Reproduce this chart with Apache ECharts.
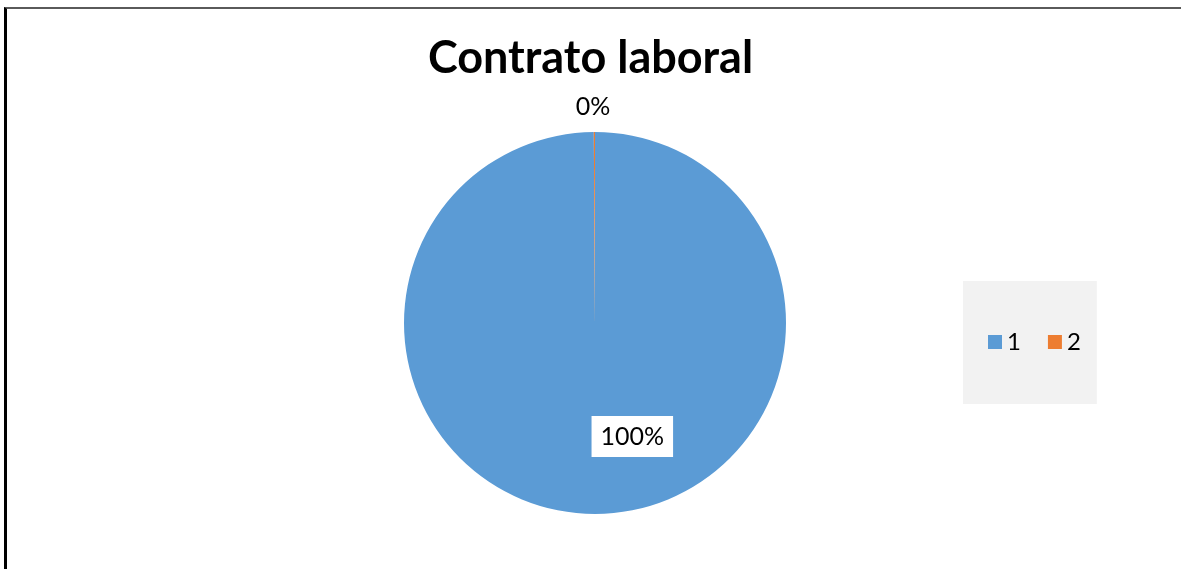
<!DOCTYPE html>
<html>
<head>
<meta charset="utf-8">
<script src="https://cdn.jsdelivr.net/npm/echarts@6/dist/echarts.min.js"></script>
<style>
html,body{margin:0;padding:0;background:#fff;}
#frame{position:absolute;left:4px;top:7px;width:1177px;height:562px;border-left:3px solid #000;border-top:2px solid #5a5a5a;box-sizing:border-box;}
#chart{position:absolute;left:0;top:0;width:1181px;height:569px;}
</style>
</head>
<body>
<div id="frame"></div>
<div id="chart"></div>
<script>
const titleText = 'Contrato laboral';
const categories = ['1', '2'];
const values = [100, 0.1];
const percentLabels = ['100%', '0%'];
const colors = ['#5B9BD5', '#ED7D31'];

const chart = echarts.init(document.getElementById('chart'), null, {renderer: 'canvas'});
const font = 'Lato, "Open Sans", sans-serif';

chart.setOption({
  animation: false,
  title: {
    text: titleText,
    left: 'center',
    top: 31,
    textStyle: {fontFamily: font, fontSize: 45, fontWeight: 'bold', color: '#000'}
  },
  legend: {
    data: categories,
    left: 963,
    top: 281,
    orient: 'horizontal',
    backgroundColor: '#f2f2f2',
    padding: [49, 16, 50, 25],
    itemWidth: 14,
    itemHeight: 14,
    itemGap: 27,
    icon: 'rect',
    textStyle: {fontFamily: font, fontSize: 24, color: '#000'}
  },
  series: [{
    type: 'pie',
    center: [595, 323],
    radius: 191,
    startAngle: 90,
    clockwise: true,
    avoidLabelOverlap: false,
    itemStyle: {borderWidth: 0},
    emphasis: {disabled: true},
    data: categories.map((c, i) => ({
      name: c,
      value: values[i],
      itemStyle: {color: colors[i]},
      label: i === 0 ? {
        show: true,
        position: 'inside',
        formatter: percentLabels[i],
        backgroundColor: '#fff',
        padding: [8, 9, 8, 9],
        offset: [37, 15],
        fontFamily: font,
        fontSize: 25,
        color: '#000'
      } : {
        show: true,
        position: 'outside',
        formatter: percentLabels[i],
        offset: [21, -17],
        fontFamily: font,
        fontSize: 25,
        color: '#000'
      },
      labelLine: {show: false, length: 8, length2: 0}
    }))
  }]
});
</script>
</body>
</html>
